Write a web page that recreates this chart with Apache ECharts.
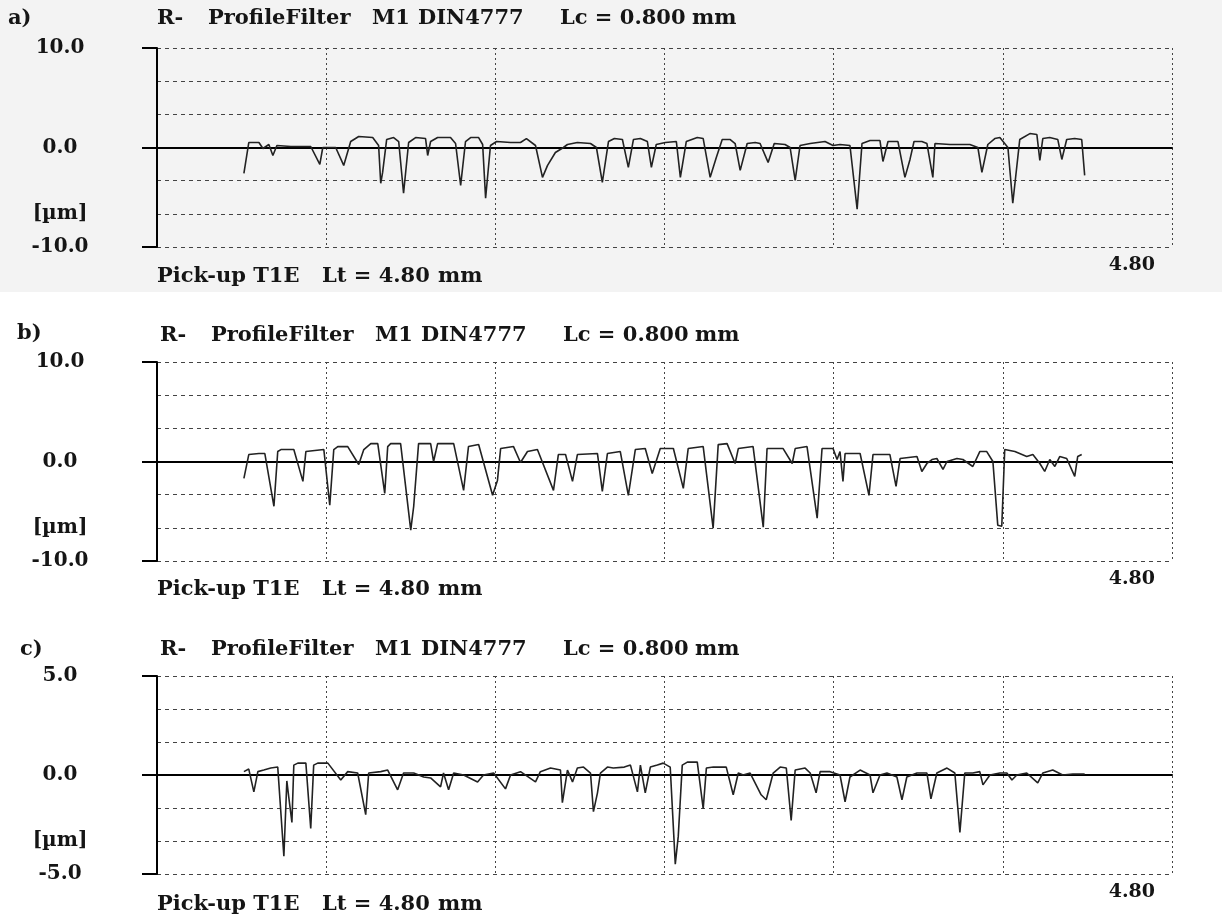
<!DOCTYPE html>
<html>
<head>
<meta charset="utf-8">
<script src="https://cdn.jsdelivr.net/npm/echarts@6/dist/echarts.min.js"></script>
<style>
html,body{margin:0;padding:0;background:#fff;}
#chart{width:1222px;height:915px;}
</style>
</head>
<body>
<div id="chart"></div>
<script>
// ---- data: [position mm, height µm] ----
const profileA = [[0.411,-2.6],[0.434,0.5],[0.482,0.5],[0.501,-0.1],[0.529,0.3],[0.548,-0.8],[0.567,0.2],[0.633,0.1],[0.727,0.1],[0.770,-1.7],[0.784,0.0],[0.845,0.0],[0.883,-1.8],[0.916,0.6],[0.954,1.1],[1.020,1.0],[1.048,0.2],[1.058,-3.6],[1.067,-2.5],[1.086,0.8],[1.119,1.0],[1.143,0.6],[1.166,-4.6],[1.190,0.5],[1.223,1.0],[1.270,0.9],[1.280,-0.8],[1.294,0.6],[1.327,1.0],[1.388,1.0],[1.412,0.4],[1.436,-3.8],[1.459,0.6],[1.483,1.0],[1.521,1.0],[1.540,0.3],[1.554,-5.1],[1.577,0.2],[1.606,0.6],[1.672,0.5],[1.719,0.5],[1.747,0.9],[1.790,0.2],[1.823,-3.0],[1.847,-1.8],[1.884,-0.5],[1.922,0.0],[1.941,0.3],[1.988,0.5],[2.050,0.4],[2.078,0.0],[2.106,-3.5],[2.135,0.6],[2.163,0.9],[2.201,0.8],[2.229,-2.0],[2.253,0.8],[2.286,0.9],[2.319,0.6],[2.338,-2.0],[2.361,0.3],[2.404,0.5],[2.456,0.6],[2.475,-3.0],[2.503,0.6],[2.555,1.0],[2.583,0.9],[2.616,-3.0],[2.645,-1.0],[2.673,0.8],[2.711,0.8],[2.734,0.4],[2.758,-2.3],[2.791,0.4],[2.829,0.5],[2.852,0.4],[2.890,-1.5],[2.919,0.4],[2.970,0.3],[2.994,0.0],[3.018,-3.3],[3.041,0.2],[3.089,0.4],[3.159,0.6],[3.197,0.2],[3.230,0.3],[3.277,0.2],[3.311,-6.2],[3.334,0.4],[3.372,0.7],[3.419,0.7],[3.433,-1.4],[3.457,0.6],[3.504,0.6],[3.537,-3.0],[3.561,-1.2],[3.580,0.6],[3.617,0.6],[3.641,0.4],[3.669,-3.0],[3.679,0.4],[3.750,0.3],[3.844,0.3],[3.882,0.0],[3.901,-2.5],[3.929,0.3],[3.962,0.9],[3.986,1.0],[4.024,0.0],[4.047,-5.6],[4.080,0.8],[4.128,1.4],[4.161,1.3],[4.175,-1.3],[4.189,0.9],[4.222,1.0],[4.260,0.8],[4.279,-1.2],[4.302,0.8],[4.340,0.9],[4.373,0.8],[4.387,-2.8]];

const profileB = [[0.411,-1.7],[0.434,0.7],[0.482,0.8],[0.510,0.8],[0.553,-4.5],[0.571,1.0],[0.586,1.2],[0.647,1.2],[0.690,-2.0],[0.704,1.0],[0.713,1.2],[0.789,1.2],[0.817,-4.4],[0.836,1.2],[0.855,1.5],[0.902,1.5],[0.954,-0.3],[0.978,1.2],[1.011,1.8],[1.044,1.8],[1.077,-3.2],[1.091,1.5],[1.105,1.8],[1.152,1.8],[1.200,-6.9],[1.214,-4.5],[1.237,1.8],[1.294,1.8],[1.308,0.0],[1.327,1.8],[1.403,1.8],[1.450,-2.9],[1.473,1.5],[1.521,1.7],[1.587,-3.4],[1.610,-1.9],[1.625,1.3],[1.686,1.5],[1.719,-0.1],[1.752,1.0],[1.799,1.2],[1.875,-2.9],[1.898,0.7],[1.932,0.7],[1.965,-2.0],[1.988,0.7],[2.083,0.8],[2.106,-3.0],[2.130,0.8],[2.191,1.0],[2.229,-3.4],[2.262,1.2],[2.309,1.3],[2.342,-1.2],[2.380,1.3],[2.442,1.3],[2.489,-2.7],[2.512,1.3],[2.583,1.5],[2.630,-6.7],[2.654,1.7],[2.696,1.8],[2.734,-0.2],[2.749,1.3],[2.819,1.5],[2.867,-6.6],[2.885,1.3],[2.961,1.3],[3.004,-0.2],[3.018,1.3],[3.074,1.5],[3.122,-5.7],[3.145,1.3],[3.197,1.3],[3.216,0.2],[3.230,1.0],[3.244,-2.0],[3.254,0.8],[3.325,0.8],[3.367,-3.4],[3.386,0.7],[3.466,0.7],[3.495,-2.5],[3.514,0.3],[3.594,0.5],[3.617,-1.0],[3.641,-0.2],[3.665,0.2],[3.688,0.3],[3.717,-0.8],[3.736,0.0],[3.783,0.3],[3.811,0.2],[3.858,-0.5],[3.891,1.0],[3.924,1.0],[3.953,0.0],[3.976,-6.4],[3.995,-6.5],[4.009,1.2],[4.057,1.0],[4.113,0.5],[4.142,0.7],[4.175,-0.2],[4.198,-1.0],[4.222,0.2],[4.246,-0.5],[4.269,0.5],[4.302,0.3],[4.340,-1.5],[4.354,0.5],[4.373,0.7]];

const profileC = [[0.411,0.17],[0.434,0.3],[0.458,-0.85],[0.477,0.17],[0.505,0.25],[0.538,0.35],[0.571,0.4],[0.600,-4.1],[0.614,-0.3],[0.623,-1.1],[0.638,-2.4],[0.647,0.5],[0.666,0.6],[0.704,0.6],[0.727,-2.7],[0.741,0.5],[0.760,0.6],[0.808,0.6],[0.869,-0.25],[0.902,0.17],[0.949,0.1],[0.987,-2.0],[1.001,0.1],[1.058,0.17],[1.091,0.25],[1.138,-0.75],[1.166,0.1],[1.214,0.1],[1.261,-0.1],[1.294,-0.15],[1.341,-0.6],[1.355,0.1],[1.379,-0.75],[1.403,0.1],[1.450,0.0],[1.516,-0.35],[1.544,0.0],[1.592,0.1],[1.648,-0.7],[1.672,0.0],[1.719,0.17],[1.790,-0.35],[1.813,0.17],[1.861,0.35],[1.908,0.25],[1.917,-1.4],[1.941,0.25],[1.965,-0.35],[1.988,0.35],[2.017,0.4],[2.050,0.1],[2.064,-1.85],[2.083,-0.9],[2.097,0.1],[2.130,0.4],[2.158,0.35],[2.210,0.4],[2.239,0.5],[2.272,-0.85],[2.286,0.5],[2.309,-0.9],[2.333,0.4],[2.366,0.5],[2.394,0.6],[2.427,0.4],[2.451,-4.5],[2.465,-3.1],[2.484,0.5],[2.508,0.65],[2.555,0.65],[2.583,-1.7],[2.598,0.35],[2.631,0.4],[2.692,0.4],[2.725,-1.0],[2.749,0.1],[2.772,0.0],[2.805,0.1],[2.857,-1.0],[2.881,-1.25],[2.914,0.1],[2.947,0.4],[2.976,0.35],[2.999,-2.3],[3.018,0.25],[3.065,0.35],[3.089,0.1],[3.117,-0.9],[3.136,0.17],[3.183,0.17],[3.230,0.0],[3.254,-1.35],[3.277,-0.1],[3.325,0.25],[3.372,0.0],[3.386,-0.9],[3.419,0.0],[3.452,0.1],[3.499,-0.1],[3.523,-1.25],[3.546,-0.1],[3.594,0.1],[3.641,0.1],[3.660,-1.2],[3.688,0.1],[3.736,0.35],[3.773,0.1],[3.797,-2.9],[3.820,0.1],[3.858,0.1],[3.891,0.17],[3.906,-0.5],[3.939,0.0],[3.986,0.1],[4.019,0.1],[4.043,-0.25],[4.066,0.0],[4.113,0.1],[4.165,-0.4],[4.189,0.1],[4.236,0.25],[4.283,0.0],[4.331,0.05],[4.387,0.05]];

// axis ranges and tick labels
const yRanges = [10, 10, 5];
const yTopLabels = ['10.0', '10.0', '5.0'];
const yZeroLabel = '0.0';
const yUnitLabel = '[µm]';
const yBottomLabels = ['-10.0', '-10.0', '-5.0'];
const xMax = 4.8;
const xInterval = 0.8;
const xEndLabel = '4.80';
const panelTags = ['a)', 'b)', 'c)'];
const titleWords = ['R-', 'ProfileFilter', 'M1', 'DIN4777', 'Lc = 0.800', 'mm'];
const footWords = ['Pick-up T1E', 'Lt = 4.80', 'mm'];
const profiles = [profileA, profileB, profileC];

// ---- layout (pixels) ----
const gridTops = [48, 362, 676];
const gridHeights = [199, 199, 198];
const gridLeft = 157, gridWidth = 1015;
const titleY = [19, 336, 650];
const tagPos = [[8, 19], [17, 334], [20, 650]];
const footY = [277, 590, 905];
const titleX = [0, 51, 215, 261, 403, 535];
const footX = [0, 165, 281];

const FONT = '"DejaVu Serif", "Liberation Serif", serif';
const TFONT = 'bold 21px ' + FONT;
const FFONT = 'bold 21px ' + FONT;

const grids = [], xAxes = [], yAxes = [], series = [], graphics = [];

graphics.push({type: 'rect', shape: {x: 0, y: 0, width: 1222, height: 292}, style: {fill: '#f3f3f3'}, z: -10});

for (let k = 0; k < 3; k++) {
  const R = yRanges[k];
  grids.push({left: gridLeft, width: gridWidth, top: gridTops[k], height: gridHeights[k], containLabel: false});
  // main x axis: dotted vertical grid, end label
  xAxes.push({
    type: 'value', gridIndex: k, min: 0, max: xMax, interval: xInterval, position: 'bottom',
    axisLine: {show: false}, axisTick: {show: false},
    splitLine: {show: true, lineStyle: {type: [2, 3], color: '#444', width: 1}},
    axisLabel: {
      show: true, showMaxLabel: true, showMinLabel: false, margin: 9,
      fontFamily: FONT, fontWeight: 'bold', fontSize: 19, color: '#151515',
      align: 'right', padding: [0, 17, 0, 0],
      formatter: v => Math.abs(v - xMax) < 1e-6 ? xEndLabel : ''
    }
  });
  // zero line
  xAxes.push({
    type: 'value', gridIndex: k, min: 0, max: xMax, interval: xInterval,
    axisLine: {show: true, onZero: true, onZeroAxisIndex: 2 * k, lineStyle: {color: '#000', width: 2}},
    axisTick: {show: false}, axisLabel: {show: false}, splitLine: {show: false}
  });
  // main y axis with dashed grid
  yAxes.push({
    type: 'value', gridIndex: k, min: -R, max: R, interval: R / 3, position: 'left',
    axisLine: {show: true, lineStyle: {color: '#000', width: 2}},
    axisTick: {show: false},
    splitLine: {show: true, lineStyle: {type: [4, 4], color: '#444', width: 1}},
    axisLabel: {
      show: true, margin: 97, align: 'center', fontFamily: FONT, fontWeight: 'bold', fontSize: 20, color: '#151515',
      formatter: v => {
        if (Math.abs(v - R) < 1e-6) return yTopLabels[k];
        if (Math.abs(v) < 1e-6) return yZeroLabel;
        if (Math.abs(v + R) < 1e-6) return yBottomLabels[k];
        if (Math.abs(v + 2 * R / 3) < 1e-3) return yUnitLabel;
        return '';
      }
    }
  });
  // outward major ticks
  yAxes.push({
    type: 'value', gridIndex: k, min: -R, max: R, interval: R, position: 'left',
    axisLine: {show: false},
    axisTick: {show: true, length: 15, lineStyle: {color: '#000', width: 2}},
    axisLabel: {show: false}, splitLine: {show: false}
  });
  series.push({
    type: 'line', xAxisIndex: 2 * k, yAxisIndex: 2 * k, data: profiles[k],
    showSymbol: false, symbol: 'none', animation: false,
    lineStyle: {color: '#222', width: 1.6}, z: 5
  });
  // text
  graphics.push({type: 'text', x: tagPos[k][0], y: tagPos[k][1], style: {text: panelTags[k], verticalAlign: 'middle', fill: '#151515', font: TFONT}});
  titleWords.forEach((w, i) => {
    graphics.push({type: 'text', x: gridLeft + titleX[i] + (k ? 3 : 0), y: titleY[k], style: {text: w, verticalAlign: 'middle', fill: '#151515', font: TFONT}});
  });
  footWords.forEach((w, i) => {
    graphics.push({type: 'text', x: gridLeft + footX[i], y: footY[k], style: {text: w, verticalAlign: 'middle', fill: '#151515', font: FFONT}});
  });
}

const chart = echarts.init(document.getElementById('chart'), null, {renderer: 'canvas'});
chart.setOption({
  animation: false,
  backgroundColor: '#ffffff',
  grid: grids, xAxis: xAxes, yAxis: yAxes, series: series, graphic: graphics
});
</script>
</body>
</html>
